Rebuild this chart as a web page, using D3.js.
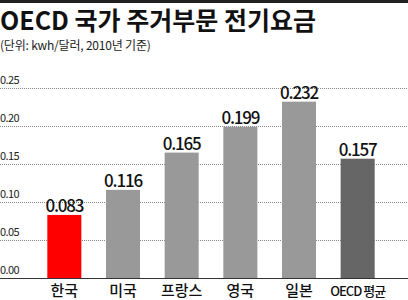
<!DOCTYPE html>
<html>
<head>
<meta charset="utf-8">
<script src="https://cdn.jsdelivr.net/npm/d3@7"></script>
<style>
  body { margin: 0; background: #fff; }
  text { font-family: "Noto Sans CJK KR", "Noto Sans", sans-serif; }
</style>
</head>
<body>
<div id="chart"></div>
<script>
// data
var countries = ["한국", "미국", "프랑스", "영국", "일본", "OECD 평균"];
var prices = [0.083, 0.116, 0.165, 0.199, 0.232, 0.157];
var barColors = ["#ff0000", "#999999", "#999999", "#999999", "#999999", "#666666"];
var ticks = [0, 0.05, 0.10, 0.15, 0.20, 0.25];

var W = 408, H = 300;
var svg = d3.select("#chart").append("svg").attr("width", W).attr("height", H);

// top rule
svg.append("rect").attr("x", 0).attr("y", 0).attr("width", W).attr("height", 3).attr("fill", "#222");

svg.append("text").attr("x", 0).attr("y", 30).text("OECD 국가 주거부문 전기요금")
  .style("font-size", "25px").style("font-weight", "bold").attr("fill", "#111");
svg.append("text").attr("x", 0).attr("y", 50).text("(단위: kwh/달러, 2010년 기준)")
  .style("font-size", "12px").attr("letter-spacing", "-0.2").attr("fill", "#222");

var y = d3.scaleLinear().domain([0, 0.25]).range([278, 88]);
var x = d3.scaleBand().domain(countries).range([35, 387]).paddingInner(0.42).paddingOuter(0.21);

// grid
svg.selectAll(".grid").data(ticks.slice(1)).enter().append("line")
  .attr("x1", 0).attr("x2", W).attr("y1", function(d) { return y(d) + 0.5 }).attr("y2", function(d) { return y(d) + 0.5 })
  .attr("stroke", "#888").attr("stroke-dasharray", "1,1");

svg.selectAll(".tick").data(ticks).enter().append("text")
  .attr("x", 0).attr("y", function(d) { return y(d) - 4 })
  .text(function(d) { return d.toFixed(2) })
  .style("font-size", "11px").attr("letter-spacing", "-0.6").attr("fill", "#222");

// bars
svg.selectAll(".bar").data(prices).enter().append("rect")
  .attr("x", function(d, i) { return x(countries[i]) })
  .attr("y", function(d) { return y(d) })
  .attr("width", x.bandwidth())
  .attr("height", function(d) { return y(0) - y(d) })
  .attr("fill", function(d, i) { return barColors[i] });

svg.append("line").attr("x1", 0).attr("x2", W).attr("y1", 278.5).attr("y2", 278.5).attr("stroke", "#333").attr("stroke-width", 1);

svg.selectAll(".val").data(prices).enter().append("text")
  .attr("x", function(d, i) { return x(countries[i]) + x.bandwidth() / 2 })
  .attr("y", function(d) { return y(d) - 3 })
  .attr("text-anchor", "middle")
  .text(function(d) { return d.toFixed(3) })
  .style("font-size", "17px").style("font-weight", "500").attr("letter-spacing", "-1.2").attr("fill", "#111");

svg.selectAll(".cat").data(countries).enter().append("text")
  .attr("x", function(d) { return x(d) + x.bandwidth() / 2 })
  .attr("y", 296)
  .attr("text-anchor", "middle")
  .text(function(d) { return d })
  .style("font-size", function(d) { return d.length > 3 ? "13px" : "15px" })
  .style("font-weight", "500")
  .attr("letter-spacing", function(d) { return d.length > 3 ? "-1" : "0" })
  .attr("fill", "#111");
</script>
</body>
</html>
